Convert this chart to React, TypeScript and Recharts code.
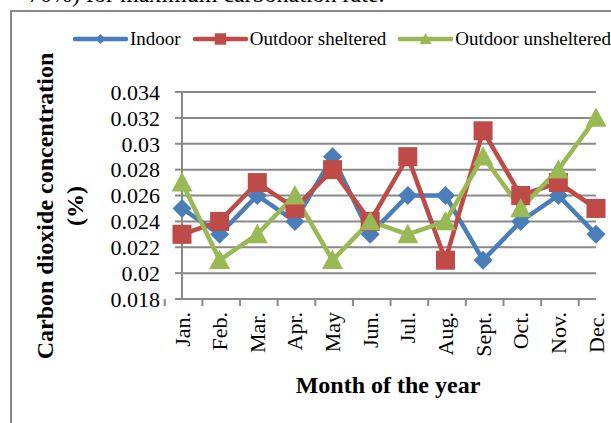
import { LineChart, Line, XAxis, YAxis, CartesianGrid } from 'recharts'

const months = ['Jan.', 'Feb.', 'Mar.', 'Apr.', 'May', 'Jun.', 'Jul.', 'Aug.', 'Sept.', 'Oct.', 'Nov.', 'Dec.']
const indoor = [0.025, 0.023, 0.026, 0.024, 0.029, 0.023, 0.026, 0.026, 0.021, 0.024, 0.026, 0.023]
const sheltered = [0.023, 0.024, 0.027, 0.025, 0.028, 0.024, 0.029, 0.021, 0.031, 0.026, 0.027, 0.025]
const unsheltered = [0.027, 0.021, 0.023, 0.026, 0.021, 0.024, 0.023, 0.024, 0.029, 0.025, 0.028, 0.032]
const yTicks = [0.018, 0.02, 0.022, 0.024, 0.026, 0.028, 0.03, 0.032, 0.034]

const data = months.map((m, i) => ({
    month: m,
    indoor: indoor[i],
    sheltered: sheltered[i],
    unsheltered: unsheltered[i],
}))

const FONT = '"Liberation Serif", "Times New Roman", serif'
const GRID = '#898989'
const BLUE = '#4a7ebb'
const RED = '#be4b48'
const GREEN = '#98b954'

type Shape = 'diamond' | 'square' | 'triangle'

const marker = (shape: Shape, cx: number, cy: number, r: number, fill: string, key?: string | number) => {
    if (shape === 'diamond') {
        return <polygon key={key} points={`${cx},${cy - r} ${cx + r},${cy} ${cx},${cy + r} ${cx - r},${cy}`} fill={fill} />
    }
    if (shape === 'square') {
        return <rect key={key} x={cx - r * 0.95} y={cy - r * 0.95} width={r * 1.9} height={r * 1.9} fill={fill} />
    }
    return <polygon key={key} points={`${cx},${cy - r} ${cx + r},${cy + r * 0.85} ${cx - r},${cy + r * 0.85}`} fill={fill} />
}

const series = [
    { key: 'indoor', name: 'Indoor', color: BLUE, shape: 'diamond' as Shape, r: 9.5 },
    { key: 'sheltered', name: 'Outdoor sheltered', color: RED, shape: 'square' as Shape, r: 10 },
    { key: 'unsheltered', name: 'Outdoor unsheltered', color: GREEN, shape: 'triangle' as Shape, r: 10.5 },
]

const MonthTick = (props: any) => {
    const { x, y, payload, index } = props
    const half = payload && payload.offset ? payload.offset : 17.25
    return (
        <g>
            <line x1={x - half} y1={y} x2={x - half} y2={y + 7} stroke={GRID} strokeWidth={2} />
            {index === months.length - 1 && (
                <line x1={x + half} y1={y} x2={x + half} y2={y + 7} stroke={GRID} strokeWidth={2} />
            )}
            <text
                transform={`translate(${x},${y + 13}) rotate(-90)`}
                textAnchor="end"
                dominantBaseline="central"
                fontFamily={FONT}
                fontSize={22}
                fill="#000"
            >
                {payload.value}
            </text>
        </g>
    )
}

const YTitle = () => (
    <g fontFamily={FONT} fontSize={24} fontWeight="bold" fill="#000">
        <text transform="translate(45,206) rotate(-90)" textAnchor="middle" dominantBaseline="central">
            Carbon dioxide concentration
        </text>
        <text transform="translate(75,206) rotate(-90)" textAnchor="middle" dominantBaseline="central">
            (%)
        </text>
    </g>
)

const XTitle = () => (
    <text x={388} y={393} textAnchor="middle" fontFamily={FONT} fontSize={24} fontWeight="bold" fill="#000">
        Month of the year
    </text>
)

export default function App() {
    return (
        <div style={{ position: 'absolute', left: 0, top: 0, width: 611, height: 423, overflow: 'hidden', background: '#fff' }}>
            <div style={{ position: 'absolute', left: 28, top: -18, fontFamily: FONT, fontSize: 24, lineHeight: 1, whiteSpace: 'nowrap' }}>
                70%) for maximum carbonation rate.
            </div>
            <div style={{
                position: 'absolute', left: 10, top: 10, width: 640, height: 440,
                borderTop: `2px solid ${GRID}`, borderLeft: `2px solid ${GRID}`,
            }} />

            <div style={{
                position: 'absolute', left: 73, top: 28, height: 22, display: 'flex', alignItems: 'center',
                fontFamily: FONT, fontSize: 19, whiteSpace: 'nowrap',
            }}>
                {series.map((s, i) => (
                    <div key={s.key} style={{ display: 'flex', alignItems: 'center', marginLeft: i === 0 ? 0 : 12 }}>
                        <svg width={55} height={16} style={{ display: 'block' }}>
                            <line x1={2} y1={8} x2={53} y2={8} stroke={s.color} strokeWidth={4.5} strokeLinecap="round" />
                            {marker(s.shape, 27.5, 8, s.shape === 'diamond' ? 5 : 6, s.color)}
                        </svg>
                        <span style={{ marginLeft: 2 }}>{s.name}</span>
                    </div>
                ))}
            </div>

            <LineChart width={611} height={423} data={data} margin={{ top: 92, right: 15, bottom: 0, left: 0 }}>
                <CartesianGrid vertical={false} stroke={GRID} strokeWidth={2} strokeOpacity={1} />
                <YAxis
                    width={182}
                    domain={[0.018, 0.034]}
                    ticks={yTicks}
                    interval={0}
                    tickSize={7}
                    tickMargin={15}
                    axisLine={{ stroke: GRID, strokeWidth: 2 }}
                    tickLine={{ stroke: GRID, strokeWidth: 2 }}
                    tick={{ fontFamily: FONT, fontSize: 22, fill: '#000' }}
                    tickFormatter={(v: number) => String(v)}
                    label={{ content: () => <YTitle /> }}
                />
                <XAxis
                    dataKey="month"
                    height={124}
                    interval={0}
                    tickSize={0}
                    tickMargin={0}
                    tickLine={false}
                    axisLine={{ stroke: GRID, strokeWidth: 2 }}
                    tick={<MonthTick />}
                    label={{ content: () => <XTitle /> }}
                />
                {series.map(s => (
                    <Line
                        key={s.key}
                        dataKey={s.key}
                        name={s.name}
                        type="linear"
                        stroke={s.color}
                        strokeWidth={4.5}
                        isAnimationActive={false}
                        dot={(p: any) => marker(s.shape, p.cx, p.cy, s.r, s.color, `${s.key}-${p.index}`)}
                        activeDot={false}
                    />
                ))}
            </LineChart>
        </div>
    )
}
